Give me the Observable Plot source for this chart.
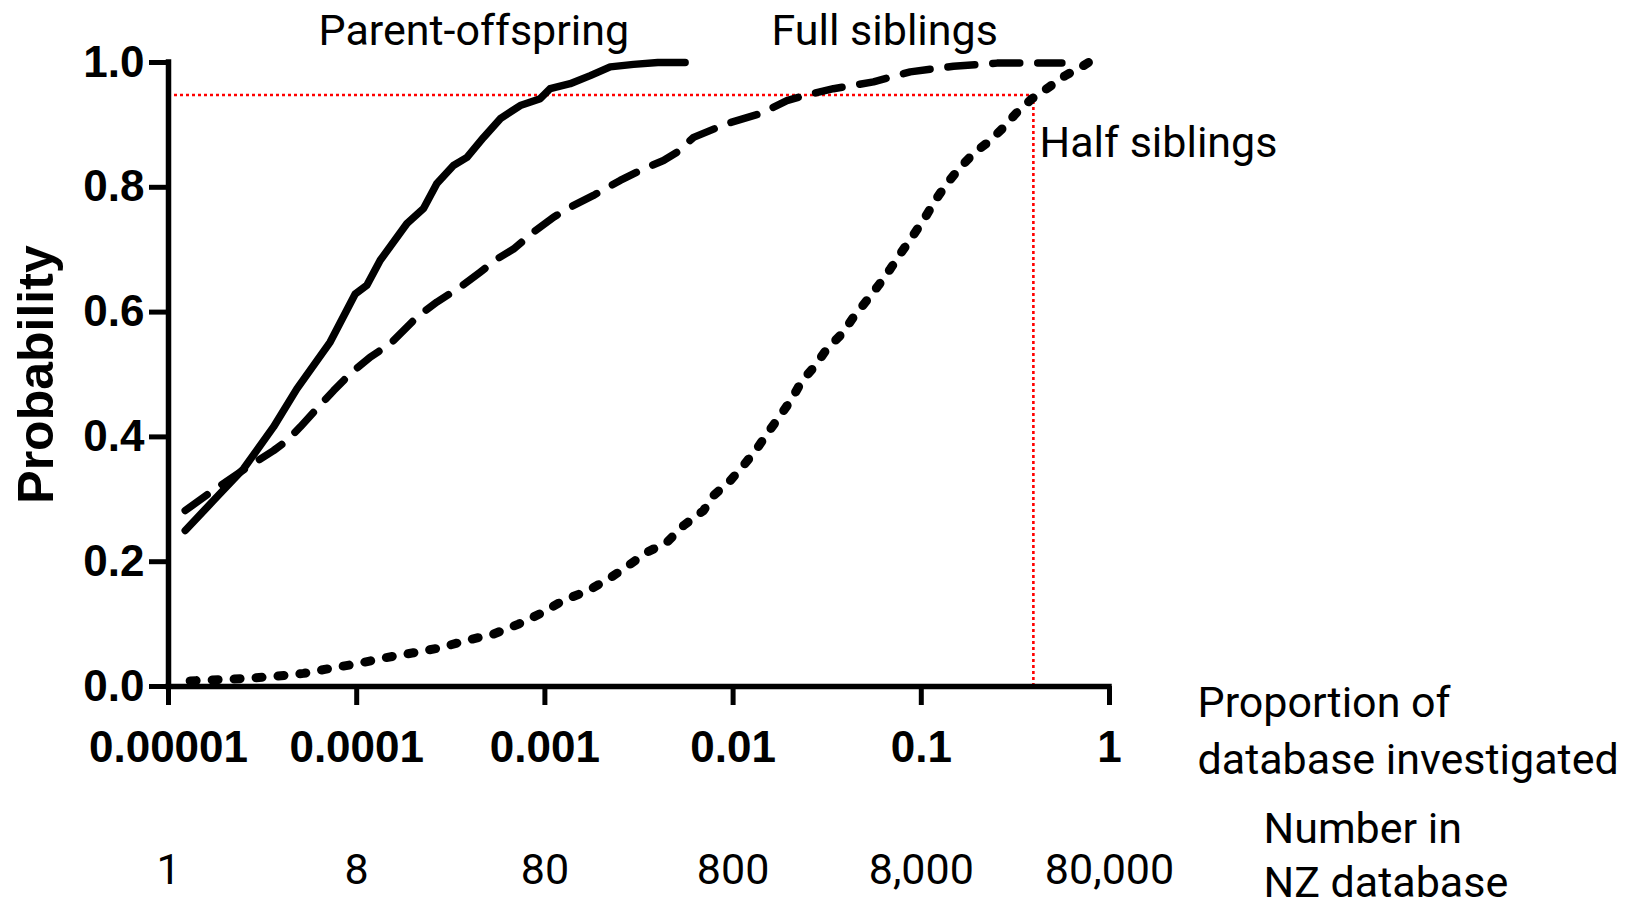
<!DOCTYPE html>
<html>
<head>
<meta charset="utf-8">
<script src="https://cdn.jsdelivr.net/npm/d3@7"></script>
<script src="https://cdn.jsdelivr.net/npm/@observablehq/plot@0.6"></script>
<style>
  html, body { margin: 0; padding: 0; background: #ffffff; }
  #chart { width: 1631px; height: 913px; }
</style>
</head>
<body>
<div id="chart"></div>
<script>
// ---- Data (x = log10 of proportion of database, y = probability) ----
const parentLog10 = [-4.911,-4.761,-4.601,-4.442,-4.318,-4.141,-4.008,-3.946,-3.875,-3.733,-3.645,-3.574,-3.486,-3.414,-3.326,-3.237,-3.131,-3.025,-2.972,-2.866,-2.759,-2.653,-2.529,-2.400,-2.255];
const parentProb  = [0.250,0.298,0.349,0.416,0.477,0.552,0.629,0.643,0.683,0.742,0.766,0.806,0.835,0.848,0.880,0.910,0.931,0.942,0.958,0.966,0.979,0.993,0.997,1.000,1.000];

const fullLog10 = [-4.911,-4.778,-4.583,-4.442,-4.371,-4.300,-4.203,-4.123,-4.035,-3.928,-3.822,-3.680,-3.574,-3.450,-3.344,-3.255,-3.167,-3.061,-2.954,-2.866,-2.742,-2.600,-2.494,-2.370,-2.299,-2.210,-2.033,-1.856,-1.714,-1.608,-1.467,-1.254,-1.059,-0.829,-0.598,-0.253];
const fullProb  = [0.282,0.311,0.351,0.378,0.394,0.416,0.448,0.474,0.501,0.528,0.549,0.592,0.616,0.640,0.664,0.685,0.701,0.728,0.752,0.768,0.787,0.811,0.827,0.843,0.856,0.880,0.902,0.918,0.939,0.948,0.958,0.969,0.985,0.994,0.999,0.999];

const halfLog10 = [-4.885,-4.734,-4.583,-4.442,-4.283,-4.141,-3.990,-3.849,-3.698,-3.556,-3.414,-3.273,-3.140,-3.016,-2.901,-2.768,-2.653,-2.547,-2.458,-2.352,-2.263,-2.157,-2.104,-2.015,-1.945,-1.874,-1.812,-1.750,-1.688,-1.634,-1.564,-1.502,-1.422,-1.360,-1.289,-1.227,-1.165,-1.103,-1.041,-0.979,-0.926,-0.864,-0.793,-0.723,-0.634,-0.563,-0.492,-0.412,-0.324,-0.235,-0.138,-0.112];
const halfProb  = [0.009,0.011,0.013,0.016,0.021,0.029,0.037,0.046,0.054,0.062,0.074,0.084,0.100,0.118,0.138,0.154,0.174,0.196,0.215,0.231,0.258,0.282,0.306,0.330,0.354,0.381,0.408,0.434,0.461,0.490,0.514,0.541,0.565,0.592,0.619,0.643,0.669,0.697,0.724,0.752,0.779,0.806,0.832,0.854,0.875,0.896,0.920,0.942,0.960,0.979,0.995,1.000];

// Red reference lines (95% probability, proportion reached by half siblings)
const refProportion = 0.394;
const refProbability = 0.948;

// Axis ticks and labels
const xTicks = [0.00001, 0.0001, 0.001, 0.01, 0.1, 1];
const xTickLabels = ["0.00001", "0.0001", "0.001", "0.01", "0.1", "1"];
const numberLabels = ["1", "8", "80", "800", "8,000", "80,000"];
const yTicks = [0, 0.2, 0.4, 0.6, 0.8, 1.0];

const seriesNames = ["Parent-offspring", "Full siblings", "Half siblings"];
const yAxisTitle = "Probability";
const xAxisTitle = "Proportion of\ndatabase investigated";
const numberTitle = "Number in\nNZ database";

// ---- Build tables ----
const toRows = (logs, probs) => logs.map((e, i) => ({p: Math.pow(10, e), v: probs[i]}));
const parentRows = toRows(parentLog10, parentProb);
const fullRows = toRows(fullLog10, fullProb);
const halfRows = toRows(halfLog10, halfProb);
const xLabelOf = new Map(xTicks.map((t, i) => [t, xTickLabels[i]]));

const boldFont = "'Liberation Sans', Arial, sans-serif";
const lightFont = "Roboto, 'Liberation Sans', sans-serif";
const lineStyle = {x: "p", y: "v", stroke: "black", strokeLinecap: "round", strokeLinejoin: "round"};

const chart = Plot.plot({
  width: 1631,
  height: 913,
  marginLeft: 168,
  marginRight: 522,
  marginTop: 62,
  marginBottom: 227,
  style: {background: "white", color: "black", fontFamily: lightFont, overflow: "visible"},
  x: {type: "log", domain: [1e-5, 1]},
  y: {domain: [0, 1]},
  marks: [
    // red dotted guide lines
    Plot.ruleY([refProbability], {x1: 1e-5, x2: refProportion, stroke: "#ff0000", strokeWidth: 2.6, strokeDasharray: "3,3"}),
    Plot.ruleX([refProportion], {y1: 0, y2: refProbability, stroke: "#ff0000", strokeWidth: 2.6, strokeDasharray: "3,3"}),

    // axes
    Plot.axisY({ticks: yTicks, tickSize: 19, tickPadding: 5, strokeWidth: 5, tickFormat: d => d.toFixed(1),
      fontSize: 44, fontWeight: "bold", fontFamily: boldFont, label: null}),
    Plot.axisX({ticks: xTicks, tickSize: 19, tickPadding: 25, strokeWidth: 5, tickFormat: d => xLabelOf.get(d),
      fontSize: 44, fontWeight: "bold", fontFamily: boldFont, label: null}),
    Plot.ruleX([1e-5], {y1: 0, y2: 1, strokeWidth: 5.5, strokeLinecap: "square"}),
    Plot.ruleY([0], {x1: 1e-5, x2: 1, strokeWidth: 5.5, strokeLinecap: "square"}),

    // curves
    Plot.line(parentRows, {...lineStyle, strokeWidth: 7.5}),
    Plot.line(fullRows, {...lineStyle, strokeWidth: 7.5, strokeDasharray: "27,18"}),
    Plot.line(halfRows, {...lineStyle, strokeWidth: 9, strokeDasharray: "6,16"}),

    // second row of x labels (numbers in database)
    Plot.text(numberLabels, {x: (d, i) => xTicks[i], text: d => d, frameAnchor: "bottom", dy: 197,
      lineAnchor: "bottom", textAnchor: "middle", fontSize: 43, fontFamily: lightFont}),

    // series labels
    Plot.text([seriesNames[0]], {frameAnchor: "top-left", dx: 150, dy: -17.5, lineAnchor: "bottom", textAnchor: "start", fontSize: 43, fontFamily: lightFont}),
    Plot.text([seriesNames[1]], {frameAnchor: "top-left", dx: 603, dy: -17.5, lineAnchor: "bottom", textAnchor: "start", fontSize: 43, fontFamily: lightFont}),
    Plot.text([seriesNames[2]], {frameAnchor: "top-left", dx: 871, dy: 94, lineAnchor: "bottom", textAnchor: "start", fontSize: 43, fontFamily: lightFont}),

    // axis titles
    Plot.text([xAxisTitle], {frameAnchor: "bottom-right", dx: 88, dy: -10, lineAnchor: "top", textAnchor: "start", lineHeight: 1.326, fontSize: 43, fontFamily: lightFont}),
    Plot.text([numberTitle], {frameAnchor: "bottom-right", dx: 154, dy: 119, lineAnchor: "top", textAnchor: "start", lineHeight: 1.24, fontSize: 43, fontFamily: lightFont}),
    Plot.text([yAxisTitle], {frameAnchor: "left", dx: -116, rotate: -90, lineAnchor: "bottom", textAnchor: "middle", fontSize: 50, fontWeight: "bold", fontFamily: boldFont})
  ]
});

document.getElementById("chart").appendChild(chart);
</script>
</body>
</html>
